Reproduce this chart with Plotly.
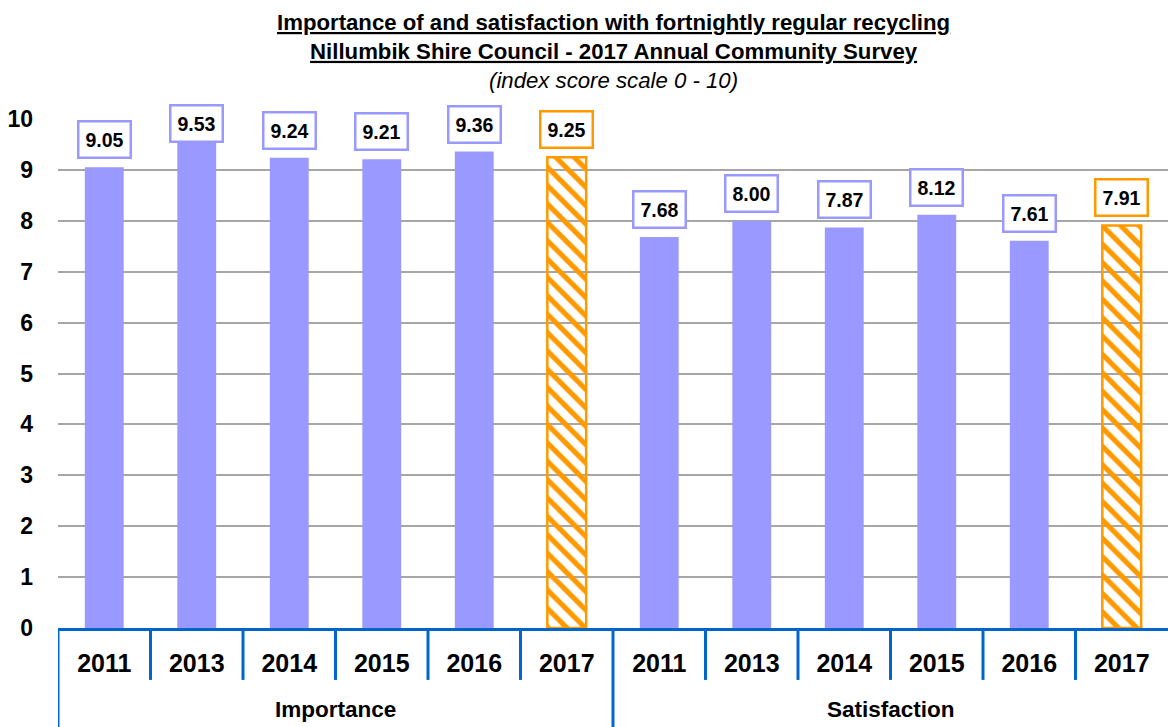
import plotly.graph_objects as go

# Survey index scores (scale 0-10)
groups = ["Importance", "Satisfaction"]
years = ["2011", "2013", "2014", "2015", "2016", "2017"]
importance = [9.05, 9.53, 9.24, 9.21, 9.36, 9.25]
satisfaction = [7.68, 8.00, 7.87, 8.12, 7.61, 7.91]

values = importance + satisfaction
labels = years + years
xpos = list(range(len(values)))

PURPLE = "#9999FF"
ORANGE = "#FF9900"
BLUE = "#0066CC"
FONT = "Liberation Sans, Arial, sans-serif"

is_current = [lab == "2017" for lab in labels]
bar_colors = [ORANGE if c else PURPLE for c in is_current]
shapes_pat = ["\\" if c else "" for c in is_current]

fig = go.Figure()
fig.add_trace(go.Bar(
    x=xpos,
    y=values,
    width=0.42,
    marker=dict(
        color=bar_colors,
        line=dict(color=bar_colors, width=[2.5 if c else 0 for c in is_current]),
        pattern=dict(shape=shapes_pat, fgcolor=bar_colors, bgcolor="white",
                     fillmode="replace", size=13, solidity=0.4),
    ),
    hoverinfo="x+y",
    showlegend=False,
))

# Boxed value labels above each bar (kept from running into the title)
LABEL_CEILING = 9.37
annotations = []
for x, v, c in zip(xpos, values, bar_colors):
    annotations.append(dict(
        x=x, y=min(v, LABEL_CEILING), xref="x", yref="y", text=f"<b>{v:.2f}</b>",
        showarrow=False, yanchor="bottom", yshift=8,
        font=dict(family=FONT, size=19.5, color="black"),
        bgcolor="white", bordercolor=c, borderwidth=2.5, borderpad=6,
    ))

# Group labels under the year labels
n = len(years)
for gi, g in enumerate(groups):
    annotations.append(dict(
        x=gi * n + (n - 1) / 2, y=-0.161, xref="x", yref="paper",
        text=f"<b>{g}</b>", showarrow=False, yanchor="middle",
        font=dict(family=FONT, size=22.5, color="black"),
    ))

# Title block
annotations.append(dict(
    x=0.5, y=1.0, xref="paper", yref="paper", yanchor="bottom", yshift=24,
    text="<b><u>Importance of and satisfaction with fortnightly regular recycling</u></b><br>"
         "<b><u>Nillumbik Shire Council - 2017 Annual Community Survey</u></b><br>"
         "<i>(index score scale 0 - 10)</i>",
    showarrow=False, align="center",
    font=dict(family=FONT, size=22.2, color="black"),
))

# Category divider ticks on the x axis
shapes = []
for k in range(len(values)):
    xb = k - 0.5
    long_tick = (k % n == 0)
    shapes.append(dict(
        type="line", xref="x", yref="paper", x0=xb, x1=xb, y0=0,
        y1=-0.195 if long_tick else -0.102,
        line=dict(color=BLUE, width=3),
    ))

fig.update_layout(
    width=1168, height=727,
    margin=dict(l=58, r=0, t=119, b=99),
    paper_bgcolor="white", plot_bgcolor="white",
    annotations=annotations,
    shapes=shapes,
    font=dict(family=FONT, color="black"),
)
fig.update_xaxes(
    range=[-0.5, len(values) - 0.5],
    tickvals=xpos, ticktext=[f"<b>{lab}</b>" for lab in labels],
    tickfont=dict(family=FONT, size=25, color="black"),
    ticks="", ticklabelstandoff=11,
    showline=True, linecolor=BLUE, linewidth=3,
    showgrid=False, zeroline=False,
)
fig.update_yaxes(
    range=[0, 10], dtick=1,
    tickvals=list(range(11)), ticktext=[f"<b>{t}</b>" for t in range(11)],
    tickfont=dict(family=FONT, size=23, color="black"),
    ticklabelstandoff=24,
    showgrid=True, gridcolor="#A6A6A6", gridwidth=1.5,
    zeroline=False, showline=False,
)

fig.write_html("out.html")
